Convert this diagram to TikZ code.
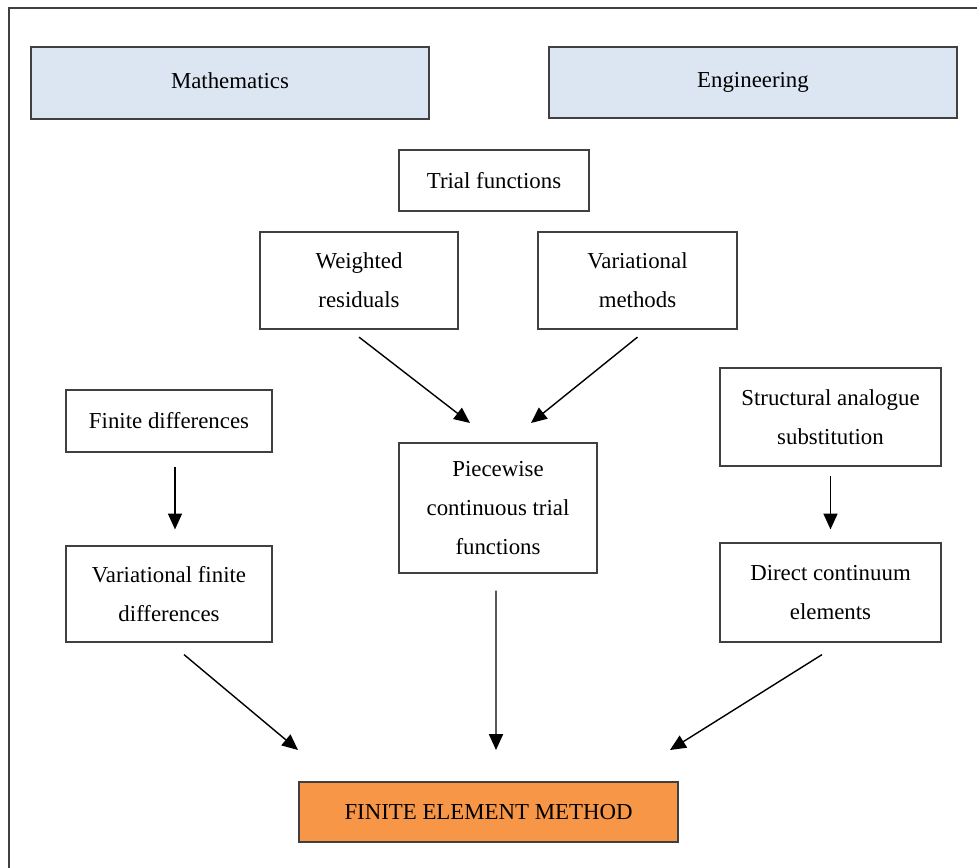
\documentclass[tikz,border=0pt]{standalone}
\usepackage{fontspec}
\setmainfont{Liberation Serif}
\usetikzlibrary{arrows.meta}
\definecolor{headblue}{HTML}{DCE6F2}
\definecolor{femorange}{HTML}{F79646}
\begin{document}
\begin{tikzpicture}[
  x=0.02cm, y=-0.02cm,
  box/.style={
    rectangle, draw=black!75,
    line width=0.7pt,
    inner sep=0pt,
    align=center,
    font=\fontsize{13}{22}\selectfont
  },
  head/.style={box, fill=headblue},                  % field header
  result/.style={box, fill=femorange},               % final method
  arr/.style={draw, line width=0.8pt, -{Triangle[length=9pt,width=8pt]}},
  frame/.style={draw=black!75, line width=0.9pt}
]
\useasboundingbox (0,0) rectangle (977,868);

% --- outer frame ---
\draw[frame] (9,868) -- (9,8) -- (977,8);

% --- headers ---
\node[head, minimum width=7.96cm, minimum height=1.44cm] (math) at (230,83) {\raisebox{0.1cm}{Mathematics}};
\node[head, minimum width=8.16cm, minimum height=1.42cm] (eng)  at (753,82.5) {\raisebox{0.1cm}{Engineering}};

% --- middle column ---
\node[box, minimum width=3.80cm, minimum height=1.22cm] (trial) at (494,180.5) {Trial functions};
\node[box, minimum width=3.96cm, minimum height=1.94cm] (wr)    at (359,280.5) {Weighted\\residuals};
\node[box, minimum width=3.98cm, minimum height=1.94cm] (vm)    at (637.5,280.5) {Variational\\methods};
\node[box, minimum width=3.96cm, minimum height=2.60cm] (pw)    at (498,508) {Piecewise\\continuous trial\\functions};

% --- side columns ---
\node[box, minimum width=4.12cm, minimum height=1.24cm] (fd)  at (169,421) {Finite differences};
\node[box, minimum width=4.12cm, minimum height=1.92cm] (vfd) at (169,594) {Variational finite\\differences};
\node[box, minimum width=4.42cm, minimum height=1.96cm] (sas) at (830.5,417) {Structural analogue\\substitution};
\node[box, minimum width=4.42cm, minimum height=1.98cm] (dce) at (830.5,592.5) {Direct continuum\\elements};

% --- result ---
\node[result, minimum width=7.58cm, minimum height=1.20cm] (fem) at (488.5,812) {FINITE ELEMENT METHOD};

% --- arrow feet (below the boxes) ---
\coordinate (wrFoot)  at ([yshift=-0.15cm]wr.south);
\coordinate (vmFoot)  at ([yshift=-0.15cm]vm.south);
\coordinate (fdFoot)  at ([xshift=0.12cm, yshift=-0.28cm]fd.south);
\coordinate (sasFoot) at ([yshift=-0.18cm]sas.south);
\coordinate (vfdFoot) at ([xshift=0.30cm, yshift=-0.24cm]vfd.south);
\coordinate (pwFoot)  at ([xshift=-0.04cm, yshift=-0.34cm]pw.south);
\coordinate (dceFoot) at ([xshift=-0.17cm, yshift=-0.24cm]dce.south);

% --- arrow tips (free ends) ---
\coordinate (wrTip)  at (470,423);
\coordinate (vmTip)  at (531,423);
\coordinate (fdTip)  at ([yshift=0.32cm]fdFoot |- vfd.north);
\coordinate (sasTip) at ([yshift=0.26cm]sas.south |- dce.north);
\coordinate (vfdTip) at (298,750);
\coordinate (pwTip)  at (496,750);
\coordinate (dceTip) at (670,750);

% --- arrows ---
\draw[arr] (wrFoot) -- (wrTip);
\draw[arr] (vmFoot) -- (vmTip);
\draw[arr] (fdFoot) -- (fdTip);
\draw[arr] (sasFoot) -- (sasTip);
\draw[arr] (vfdFoot) -- (vfdTip);
\draw[arr] (pwFoot) -- (pwTip);
\draw[arr] (dceFoot) -- (dceTip);

\end{tikzpicture}
\end{document}
